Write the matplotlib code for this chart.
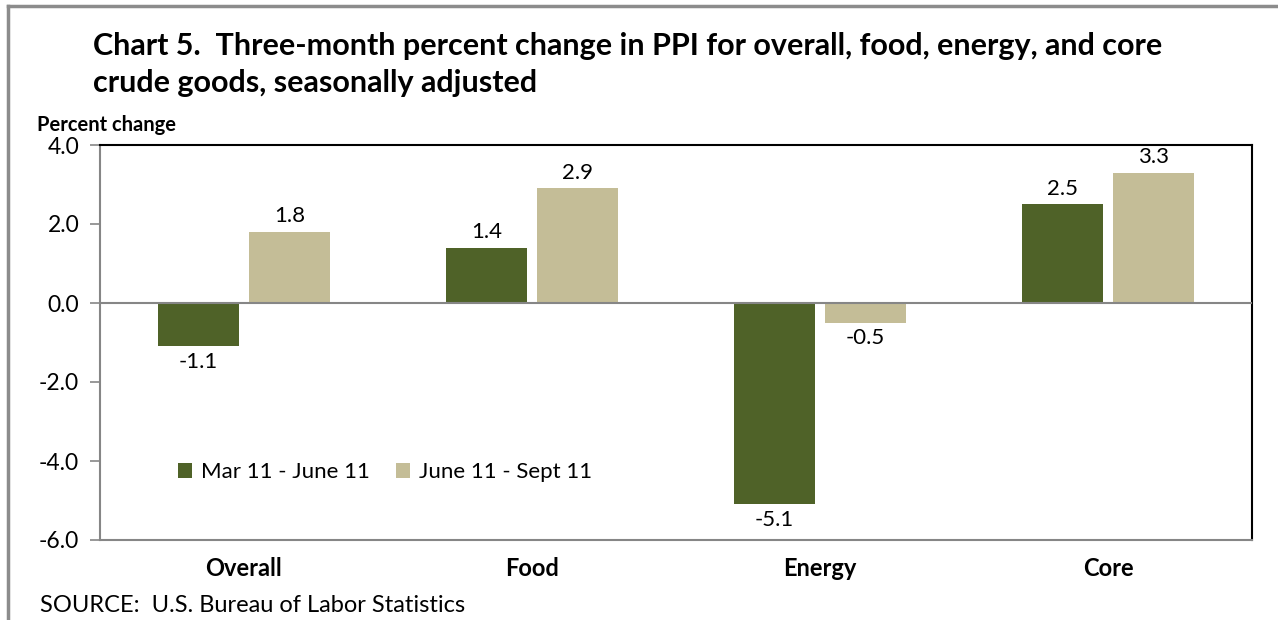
import matplotlib
matplotlib.use("Agg")
import matplotlib.pyplot as plt
from matplotlib.lines import Line2D
import numpy as np

plt.rcParams['font.family'] = ['Lato', 'DejaVu Sans']

categories = ["Overall", "Food", "Energy", "Core"]
series_names = ["Mar 11 - June 11", "June 11 - Sept 11"]
mar_jun = [-1.1, 1.4, -5.1, 2.5]
jun_sep = [1.8, 2.9, -0.5, 3.3]
colors = ["#4F6228", "#C4BD97"]
yticks = [-6.0, -4.0, -2.0, 0.0, 2.0, 4.0]

fig = plt.figure(figsize=(12.78, 6.2), dpi=100)
ax = fig.add_axes([100/1278, 80/620, 1152/1278, 395/620])

x = np.arange(len(categories))
w = 0.278
off = 0.158
b1 = ax.bar(x - off, mar_jun, w, color=colors[0], label=series_names[0], zorder=2)
b2 = ax.bar(x + off, jun_sep, w, color=colors[1], label=series_names[1], zorder=2)

for bars, vals in ((b1, mar_jun), (b2, jun_sep)):
    for rect, v in zip(bars, vals):
        cx = rect.get_x() + rect.get_width() / 2
        if v >= 0:
            ax.annotate(f"{v:.1f}", (cx, v), xytext=(0, 4), textcoords="offset points",
                        ha="center", va="bottom", fontsize=16)
        else:
            ax.annotate(f"{v:.1f}", (cx, v), xytext=(0, -4), textcoords="offset points",
                        ha="center", va="top", fontsize=16)

ax.set_xlim(-0.5, len(categories) - 0.5)
ax.set_ylim(-6, 4)
ax.set_yticks(yticks)
ax.set_yticklabels([f"{t:.1f}" for t in yticks], fontsize=16.5)
ax.set_xticks(x)
ax.set_xticklabels(categories, fontsize=17, fontweight="bold")
ax.tick_params(axis="x", length=0, pad=12)
ax.tick_params(axis="y", direction="out", length=7, color="#868686", width=1.2, pad=8)

ax.axhline(0, color="#868686", lw=1.5, zorder=3)
ax.spines["left"].set_color("#868686")
ax.spines["bottom"].set_color("#868686")
ax.spines["top"].set_color("black")
ax.spines["right"].set_color("black")
for s in ax.spines.values():
    s.set_linewidth(1.5)

ax.legend(loc="center left", bbox_to_anchor=(69/1152, 68/395), ncol=2, frameon=False,
          fontsize=16, handlelength=0.65, handleheight=0.65, handletextpad=0.4,
          columnspacing=1.15, borderaxespad=0)

fig.text(93/1278, 1 - 46/620, "Chart 5.  Three-month percent change in PPI for overall, food, energy, and core",
         fontsize=22, fontweight="bold", va="center", ha="left")
fig.text(93/1278, 1 - 83/620, "crude goods, seasonally adjusted",
         fontsize=22, fontweight="bold", va="center", ha="left")
fig.text(37/1278, 1 - 125/620, "Percent change", fontsize=14.5, fontweight="bold", va="center", ha="left")
fig.text(40/1278, 1 - 606/620, "SOURCE:  U.S. Bureau of Labor Statistics", fontsize=17, va="center", ha="left")

fig.add_artist(Line2D([7.5/1278, 1], [1 - 5.5/620, 1 - 5.5/620], color="#8C8C8C", lw=2.5))
fig.add_artist(Line2D([7.5/1278, 7.5/1278], [0, 1 - 5.5/620], color="#8C8C8C", lw=2.5))

fig.savefig("out.png", dpi=100)
